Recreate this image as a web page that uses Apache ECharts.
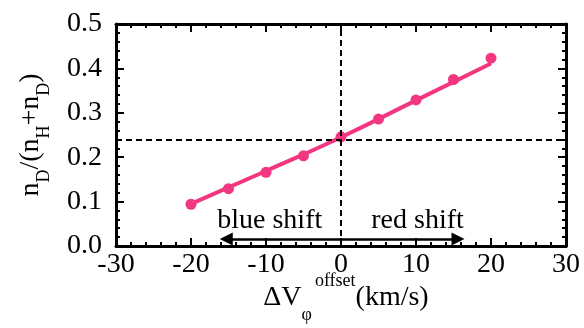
<!DOCTYPE html>
<html>
<head>
<meta charset="utf-8">
<script src="https://cdn.jsdelivr.net/npm/echarts@6/dist/echarts.min.js"></script>
<style>
  html, body { margin: 0; padding: 0; background: #fff; }
  #chart { width: 584px; height: 328px; }
</style>
</head>
<body>
<div id="chart"></div>
<script>
// velocity offsets (km/s) and measured ratios
const offsets = [-20, -15, -10, -5, 0, 5, 10, 15, 20];
const ratios = [0.094, 0.129, 0.166, 0.203, 0.246, 0.286, 0.329, 0.375, 0.423];
// fitted line
const fitX = [-20, -10, 0, 10, 20];
const fitY = [0.095, 0.169, 0.245, 0.328, 0.411];
// reference lines
const refX = 0;
const refY = 0.2426;
// shift annotations
const arrowY = 0.016;
const arrowEnds = [-15.3, 15.6];
const shiftLabels = [
  { name: 'blue shift', x: -9.5, y: 0.058 },
  { name: 'red shift', x: 10.2, y: 0.058 }
];
const xTicks = [-30, -20, -10, 0, 10, 20, 30];
const yTicks = [0, 0.1, 0.2, 0.3, 0.4, 0.5];

const pink = '#f2367f';
const font = 'Liberation Serif';

let chart = echarts.init(document.getElementById('chart'));

function axisBase(extra) {
  return Object.assign({
    type: 'value',
    axisLine: { show: true, onZero: false, lineStyle: { color: '#000', width: 3 } },
    axisTick: { show: true, inside: true, length: 8, lineStyle: { color: '#000', width: 2 } },
    minorTick: { show: true, splitNumber: 5, length: 4, lineStyle: { color: '#000', width: 2 } },
    splitLine: { show: false },
    minorSplitLine: { show: false }
  }, extra);
}

let xAxisOpt = {
  min: xTicks[0], max: xTicks[xTicks.length - 1], interval: 10
};
let yAxisOpt = {
  min: yTicks[0], max: yTicks[yTicks.length - 1], interval: 0.1
};

chart.setOption({
  animation: false,
  backgroundColor: '#fff',
  grid: { left: 116, right: 18, top: 24, bottom: 82, outerBoundsMode: 'none', containLabel: false },
  xAxis: [
    axisBase(Object.assign({
      position: 'bottom',
      axisLabel: { color: '#000', fontFamily: font, fontSize: 28, margin: 5 },
      name: 'ΔV{sub|φ}{sup|offset}(km/s)',
      nameLocation: 'middle',
      nameGap: 26,
      nameMoveOverlap: false,
      nameTextStyle: {
        color: '#000', fontFamily: font, fontSize: 28, lineHeight: 52,
        padding: [0, 0, 0, 10],
        rich: {
          sub: { fontFamily: font, fontSize: 18, lineHeight: 17, verticalAlign: 'bottom', color: '#000', padding: [0, 3, 0, 0] },
          sup: { fontFamily: font, fontSize: 18, lineHeight: 17, verticalAlign: 'top', color: '#000' }
        }
      }
    }, xAxisOpt)),
    axisBase(Object.assign({ position: 'top', axisLabel: { show: false } }, xAxisOpt))
  ],
  yAxis: [
    axisBase(Object.assign({
      position: 'left',
      axisLabel: {
        color: '#000', fontFamily: font, fontSize: 28, margin: 14,
        formatter: v => v.toFixed(1)
      },
      name: 'n{sub|D}/(n{sub|H}+n{sub|D})',
      nameLocation: 'middle',
      nameRotate: 90,
      nameGap: 63,
      nameMoveOverlap: false,
      nameTextStyle: {
        color: '#000', fontFamily: font, fontSize: 28, lineHeight: 44,
        rich: {
          sub: { fontFamily: font, fontSize: 18, lineHeight: 17, verticalAlign: 'bottom', color: '#000' }
        }
      }
    }, yAxisOpt)),
    axisBase(Object.assign({ position: 'right', axisLabel: { show: false } }, yAxisOpt))
  ],
  series: [
    {
      name: 'fit',
      type: 'line',
      data: fitX.map((x, i) => [x, fitY[i]]),
      showSymbol: false,
      smooth: true,
      lineStyle: { color: pink, width: 4 },
      z: 3,
      markLine: {
        silent: true,
        symbol: 'none',
        label: { show: false },
        lineStyle: { color: '#000', width: 2, type: [6, 4] },
        data: [{ xAxis: refX }, { yAxis: refY }]
      }
    },
    {
      name: 'data',
      type: 'scatter',
      data: offsets.map((x, i) => [x, ratios[i]]),
      symbolSize: 11,
      itemStyle: { color: pink, opacity: 1 },
      z: 4
    },
    {
      name: 'shift',
      type: 'scatter',
      data: shiftLabels.map(d => ({ name: d.name, value: [d.x, d.y] })),
      symbolSize: 0,
      silent: true,
      itemStyle: { color: '#000', opacity: 1 },
      label: {
        show: true, position: 'inside', formatter: '{b}',
        color: '#000', fontFamily: font, fontSize: 28,
        textBorderWidth: 0, opacity: 1
      },
      markLine: {
        silent: true,
        symbol: ['none', 'triangle'],
        symbolSize: 13,
        label: { show: false },
        lineStyle: { color: '#000', width: 2.5, type: 'solid' },
        data: arrowEnds.map(e => [{ coord: [refX, arrowY] }, { coord: [e, arrowY] }])
      }
    }
  ]
});
</script>
</body>
</html>
